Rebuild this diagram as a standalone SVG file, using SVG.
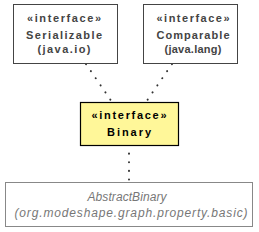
<svg xmlns="http://www.w3.org/2000/svg" width="259" height="232" viewBox="0 0 259 232">
<style>
text{font-family:"Liberation Sans",Arial,sans-serif;font-size:11px;text-anchor:middle}
.b{font-weight:bold;fill:#444}
.box{fill:#fff;stroke:#444;stroke-width:1}
.cur{fill:#fff799;stroke:#000;stroke-width:1.2}
.k{font-weight:bold;fill:#000}
.sub{fill:#fff;stroke:#888;stroke-width:1}
.i{font-style:italic;fill:#777;font-size:12px}
.c{fill:none;stroke:#333;stroke-width:2;stroke-dasharray:0.1 8.5;stroke-linecap:round}
</style>
<g id="connectors">
<path class="c" d="M86 64L112 102"/>
<path class="c" d="M172 64L146 102"/>
<path class="c" d="M129 145L129 182"/>
</g>
<g id="serializable">
<rect class="box" x="13.5" y="4.5" width="104" height="59"/>
<text class="b" x="64" y="22" textLength="74" lengthAdjust="spacing">«interface»</text>
<text class="b" x="64" y="39" textLength="76" lengthAdjust="spacing">Serializable</text>
<text class="b" x="64" y="53" textLength="53" lengthAdjust="spacing">(java.io)</text>
</g>
<g id="comparable">
<rect class="box" x="143.5" y="4.5" width="94" height="59"/>
<text class="b" x="193" y="22" textLength="73" lengthAdjust="spacing">«interface»</text>
<text class="b" x="193" y="39" textLength="73" lengthAdjust="spacing">Comparable</text>
<text class="b" x="193" y="53" textLength="57" lengthAdjust="spacing">(java.lang)</text>
</g>
<g id="binary">
<rect class="cur" x="80.5" y="102.5" width="98" height="43"/>
<text class="k" x="129" y="119" textLength="75" lengthAdjust="spacing">«interface»</text>
<text class="k" x="129" y="136" textLength="44" lengthAdjust="spacing">Binary</text>
</g>
<g id="abstractbinary">
<rect class="sub" x="5.5" y="182.5" width="247" height="44"/>
<text class="i" x="127" y="201" textLength="79" lengthAdjust="spacing">AbstractBinary</text>
<text class="i" x="131" y="217" textLength="233" lengthAdjust="spacing">(org.modeshape.graph.property.basic)</text>
</g>
</svg>
